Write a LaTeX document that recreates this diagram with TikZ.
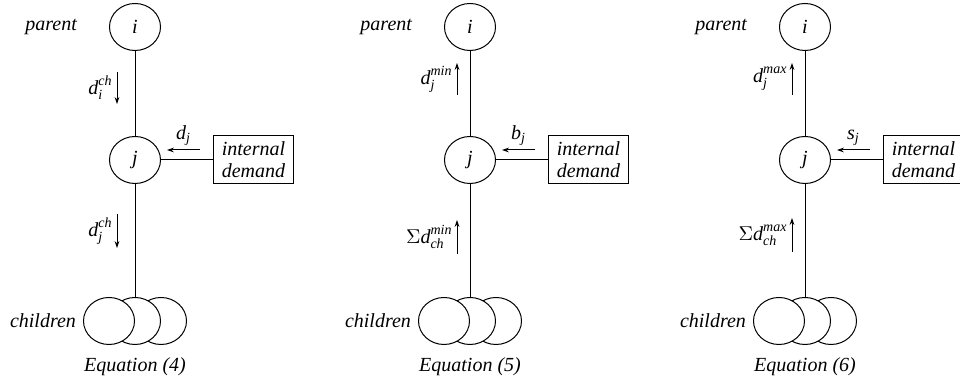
\documentclass[tikz,border=0pt]{standalone}
\usepackage{amsmath}
\usepackage{fontspec}
\setmainfont{Liberation Serif}
\usetikzlibrary{positioning,arrows.meta,shapes.geometric}
\newcommand{\txi}[1]{\textit{#1}}
\tikzset{
  treenode/.style={draw, ellipse, line width=0.5pt, fill=white, minimum width=25.5pt, minimum height=23.5pt, inner sep=0pt, font=\itshape},
  demandbox/.style={draw, line width=0.5pt, minimum width=40pt, minimum height=24pt, inner sep=1pt, align=center, font=\itshape\fontsize{10}{11}\selectfont},
  link/.style={line width=0.5pt},
  downflow/.style={-{Stealth[length=3.5pt,width=2.4pt]}, line width=0.5pt},
  upflow/.style={{Stealth[length=3.5pt,width=2.4pt]}-, line width=0.5pt},
  sidelabel/.style={font=\itshape}
}

\begin{document}
\begin{tikzpicture}[x=0.5pt, y=-0.5pt]
  \useasboundingbox (0,0) rectangle (960,383);
  \foreach \p/\cx/\ax/\ty/\by/\dirn/\toplab/\botlab/\sidelab/\eqno in {
      1/135/-18/88/231/downflow/{$\txi{d}_{\txi{i}}^{\txi{ch}}$}/{$\txi{d}_{\txi{j}}^{\txi{ch}}$}/{$\txi{d}_{\txi{j}}$}/4,
      2/470/-13/79/237/upflow/{$\txi{d}_{\txi{j}}^{\txi{min}}$}/{$\Sigma\txi{d}_{\txi{ch}}^{\txi{min}}$}/{$\txi{b}_{\txi{j}}$}/5,
      3/805/-13/79/235/upflow/{$\txi{d}_{\txi{j}}^{\txi{max}}$}/{$\Sigma\txi{d}_{\txi{ch}}^{\txi{max}}$}/{$\txi{s}_{\txi{j}}$}/6} {
    % tree: parent, node j, children
    \node[treenode] (i\p) at (\cx,27) {i};
    \node[treenode] (j\p) at (\cx,160) {j};
    \node[demandbox, right=26pt of j\p] (dem\p) {internal\\demand};
    \node[treenode] (cc\p) at (\cx+26,321) {};
    \node[treenode] (cb\p) at (\cx,321) {};
    \node[treenode] (ca\p) at (\cx-26,321) {};
    \node[sidelabel, left=12.5pt of i\p] (par\p) {parent};
    \node[sidelabel, left=0pt of ca\p] (chl\p) {children};
    \node[sidelabel, below=3pt of cb\p] (eq\p) {Equation (\eqno)};
    \draw[link] (i\p) -- (j\p);
    \draw[link] (j\p) -- (cb\p);
    \draw[link] (j\p) -- (dem\p);
    % flows
    \coordinate (ta\p) at (\cx+\ax,\ty-16);
    \coordinate (tb\p) at (\cx+\ax,\ty+16);
    \coordinate (ba\p) at (\cx+\ax,\by-17);
    \coordinate (bb\p) at (\cx+\ax,\by+17);
    \coordinate (sa\p) at (\cx+65,150);
    \coordinate (sb\p) at (\cx+32,150);
    \draw[\dirn] (ta\p) -- (tb\p) node[midway, left, inner sep=2pt] {\toplab};
    \draw[\dirn] (ba\p) -- (bb\p) node[midway, left, inner sep=2pt] {\botlab};
    \draw[downflow] (sa\p) -- (sb\p) node[midway, above, inner sep=2pt] {\sidelab};
  }
\end{tikzpicture}
\end{document}
